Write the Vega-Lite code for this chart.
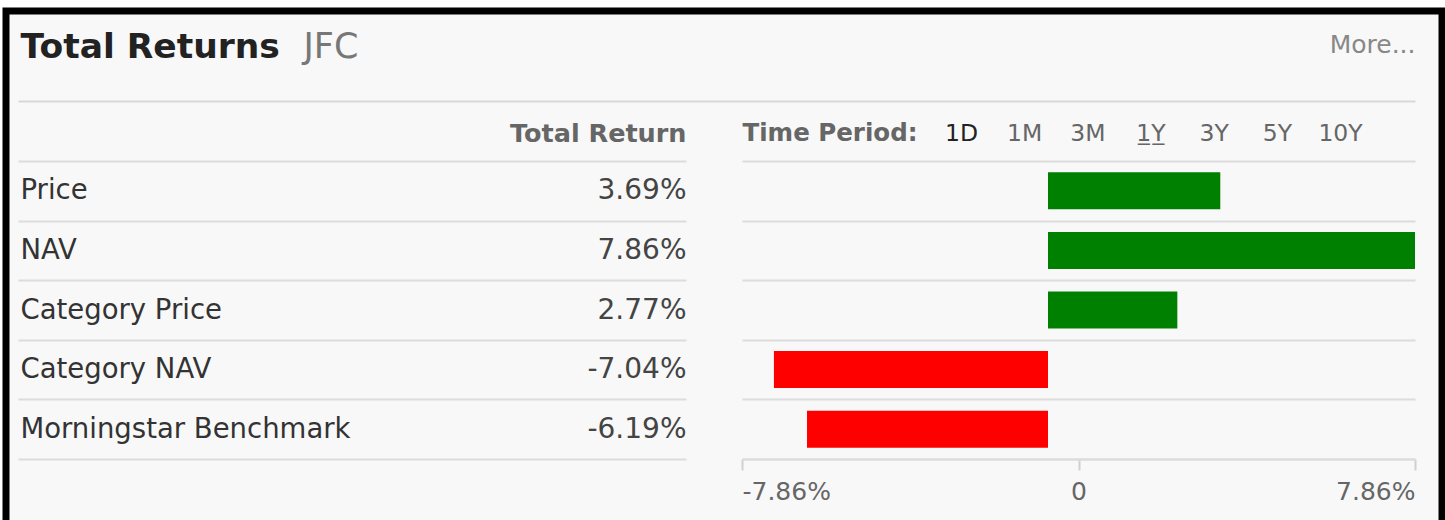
{
  "$schema": "https://vega.github.io/schema/vega-lite/v6.json",
  "width": 1445,
  "height": 520,
  "autosize": {"type": "fit", "contains": "padding"},
  "padding": {"left": 6, "right": 3, "top": 11, "bottom": -20},
  "background": "#ffffff",
  "config": {
    "view": {"stroke": "#000000", "strokeWidth": 7, "fill": "#f8f8f8"},
    "font": "DejaVu Sans",
    "axis": {"grid": false, "labelFont": "DejaVu Sans", "titleFont": "DejaVu Sans"}
  },
  "data": {
    "values": [
      {"label": "Price", "ret": 3.69, "period": "1Y"},
      {"label": "NAV", "ret": 7.86, "period": "1Y"},
      {"label": "Category Price", "ret": 2.77, "period": "1Y"},
      {"label": "Category NAV", "ret": -7.04, "period": "1Y"},
      {"label": "Morningstar Benchmark", "ret": -6.19, "period": "1Y"}
    ]
  },
  "layer": [
    {
      "mark": {"type": "bar"},
      "encoding": {
        "y": {
          "field": "label", "type": "nominal", "sort": null,
          "scale": {"type": "band", "range": [150, 448], "paddingInner": 0.38, "paddingOuter": 0.19},
          "axis": {"orient": "left", "labels": false, "ticks": false, "domain": false,
            "title": "JFC", "titleAngle": 0, "titleX": 297, "titleY": 46.7, "titleAlign": "left",
            "titleBaseline": "alphabetic", "titleFontSize": 35, "titleFontWeight": "normal", "titleColor": "#777777"}
        },
        "x": {
          "field": "ret", "type": "quantitative",
          "scale": {"domain": [-30, -7.86, 0, 7.86], "range": [12, 736, 1042, 1409], "nice": false, "zero": false},
          "axis": {"orient": "top", "offset": -90, "labels": false, "ticks": false, "domain": true,
            "domainColor": "#d8d8d8", "domainWidth": 2,
            "title": "Total Returns", "titleX": 14, "titleY": -43.3, "titleAlign": "left",
            "titleBaseline": "alphabetic", "titleFontSize": 34.5, "titleFontWeight": "bold", "titleColor": "#222222"}
        },
        "color": {"condition": {"test": "datum.ret >= 0", "value": "#008000"}, "value": "#ff0000"}
      }
    },
    {
      "mark": {"type": "point", "opacity": 0},
      "encoding": {
        "y": {
          "field": "label", "type": "nominal", "sort": null,
          "scale": {"type": "band", "range": [150, 448], "padding": 0},
          "axis": {"orient": "left", "offset": -680, "domain": false, "ticks": true, "tickSize": 668,
            "tickWidth": 2, "tickColor": "#dcdcdc", "tickBand": "extent",
            "labelAlign": "left", "labelPadding": -2, "labelColor": "#333333",
            "labelFontSize": {"condition": {"test": "isString(datum.value)", "value": 27.5}, "value": 0},
            "labelLimit": 600, "labelBaseline": "middle",
            "labelExpr": "isString(datum.value) ? datum.value : ''",
            "title": "Total Return", "titleAngle": 0, "titleX": 0, "titleY": 130, "titleAlign": "right",
            "titleBaseline": "alphabetic", "titleFontSize": 25.5, "titleFontWeight": "bold", "titleColor": "#666666"}
        },
        "x": {
          "field": "ret", "type": "quantitative",
          "scale": {"domain": [-7.86, 7.86], "range": [736, 1409], "nice": false, "zero": false},
          "axis": {"orient": "bottom", "offset": -81, "values": [-7.86, 0, 7.86], "tickSize": 11, "tickWidth": 2,
            "tickColor": "#d0d0d0", "domainColor": "#d8d8d8", "domainWidth": 2, "labelFlush": true,
            "labelFontSize": 25, "labelColor": "#666666", "labelBaseline": "alphabetic", "labelPadding": 29,
            "labelExpr": "datum.value == 0 ? '0' : (datum.value < 0 ? '-' : '') + format(abs(datum.value), '.2f') + '%'",
            "title": null}
        }
      }
    },
    {
      "mark": {"type": "point", "opacity": 0},
      "encoding": {
        "y": {
          "field": "ret", "type": "ordinal", "sort": null,
          "scale": {"type": "band", "range": [150, 448], "padding": 0},
          "axis": {"orient": "right", "offset": -700, "domain": false, "tickSize": 673, "tickWidth": 2,
            "tickColor": "#dcdcdc", "tickBand": "extent",
            "labelAlign": "right", "labelPadding": -729, "labelColor": "#444444",
            "labelFontSize": {"condition": {"test": "isNumber(datum.value)", "value": 28}, "value": 0},
            "labelBaseline": "middle",
            "labelExpr": "isNumber(datum.value) ? (datum.value < 0 ? '-' : '') + format(abs(datum.value), '.2f') + '%' : ''",
            "title": "More...", "titleAngle": 0, "titleX": 673, "titleY": 41, "titleAlign": "right",
            "titleBaseline": "alphabetic", "titleFontSize": 25, "titleFontWeight": "normal", "titleColor": "#888888"}
        },
        "x": {
          "field": "period", "type": "nominal",
          "scale": {"type": "point", "domain": ["1D", "1M", "3M", "1Y", "3Y", "5Y", "10Y"], "range": [955, 1334],
            "padding": 0},
          "axis": {"orient": "top", "offset": -90, "domain": false,
            "ticks": false, "tickSize": 0, "labelPadding": -39, "labelBaseline": "alphabetic", "labelAngle": 0,
            "labelFontSize": 23.5,
            "labelColor": {"condition": {"test": "datum.value == '1D'", "value": "#222222"}, "value": "#666666"},
            "labelExpr": "datum.value == '1Y' ? '1\u0332Y\u0332' : datum.value",
            "title": "Time Period:", "titleAngle": 0, "titleX": 736, "titleY": 39, "titleAlign": "left",
            "titleBaseline": "alphabetic", "titleFontSize": 24.5, "titleFontWeight": "bold", "titleColor": "#666666"}
        }
      }
    }
  ],
  "resolve": {
    "scale": {"x": "independent", "y": "independent"},
    "axis": {"x": "independent", "y": "independent"}
  }
}
